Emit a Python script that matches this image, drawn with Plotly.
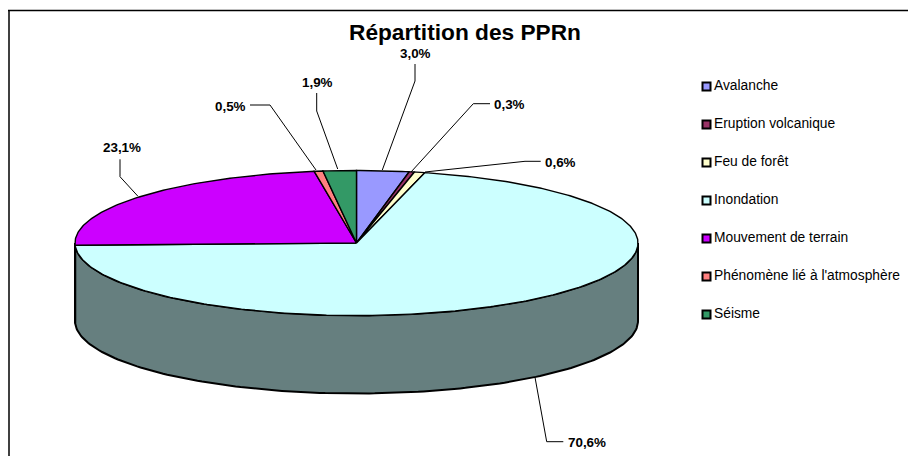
import numpy as np
import plotly.graph_objects as go

categories = ["Avalanche", "Eruption volcanique", "Feu de forêt", "Inondation",
              "Mouvement de terrain", "Phénomène lié à l'atmosphère", "Séisme"]
shares = [3.0, 0.3, 0.6, 70.6, 23.1, 0.5, 1.9]
top_colors = ["#9999FF", "#993366", "#FFFFCC", "#CCFFFF", "#CC00FF", "#FF8080", "#339966"]
side_colors = ["#4C4C80", "#4C1933", "#808066", "#667F7F", "#660080", "#804040", "#194C33"]

# Pie geometry in canvas pixels
CX, CY, RX, RY, DEPTH = 356.5, 243.0, 281.5, 72.5, 78.0

# Leader-line styling positions: [(x, y) ...] and label anchor per slice
leaders = [
    [(382.3, 170), (415, 81), (415, 64)],
    [(411, 172), (473.3, 103.7), (490, 103.7)],
    [(425, 172), (525, 161.3), (540.7, 161.3)],
    [(535, 377.3), (546.7, 441.7), (563.3, 441.7)],
    [(137.7, 196), (120, 176.7), (120, 159.3)],
    [(316, 170), (270, 105), (250, 105)],
    [(337.7, 169), (316.7, 111), (316.7, 93)],
]
label_pos = [(415.5, 53, "center"), (492, 104, "left"), (543, 162, "left"),
             (566, 442, "left"), (121.5, 147.5, "center"), (248, 106, "right"),
             (317, 82, "center")]
legend_ys = [85.5, 123.5, 161.5, 199.5, 237.5, 275.5, 313.5]
FONT = "Liberation Sans, Arial, sans-serif"


def pt(theta, dy=0.0):
    return CX + RX * np.sin(theta), CY - RY * np.cos(theta) + dy


fig = go.Figure()
fig.add_shape(type="line", x0=9, y0=10, x1=9, y1=456, layer="below",
              line=dict(color="#404040", width=2))
fig.add_shape(type="line", x0=8, y0=10.6, x1=908, y1=10.6, layer="below",
              line=dict(color="#000000", width=1.5))

edges = np.cumsum([0] + shares) / 100 * 2 * np.pi

# Side wall: only the front half of the cylinder is visible
for name, a, b, col in zip(categories, edges[:-1], edges[1:], side_colors):
    lo, hi = max(a, np.pi / 2), min(b, 3 * np.pi / 2)
    if hi <= lo:
        continue
    t = np.linspace(lo, hi, 160)
    xt, yt = pt(t)
    xb, yb = pt(t[::-1], DEPTH)
    fig.add_trace(go.Scatter(
        x=np.r_[xt, xb, xt[0]], y=np.r_[yt, yb, yt[0]], mode="lines", fill="toself",
        fillcolor=col, line=dict(color="#000000", width=2), name=name,
        hoverinfo="name", showlegend=False))

# Top face wedges
for name, a, b, col in zip(categories, edges[:-1], edges[1:], top_colors):
    t = np.linspace(a, b, max(6, int((b - a) * 80)))
    x, y = pt(t)
    fig.add_trace(go.Scatter(
        x=np.r_[CX, x, CX], y=np.r_[CY, y, CY], mode="lines", fill="toself",
        fillcolor=col, line=dict(color="#000000", width=1.4), name=name,
        hoverinfo="name", showlegend=False))

# Leader lines and percent labels
for line, share, (lx, ly, align) in zip(leaders, shares, label_pos):
    fig.add_trace(go.Scatter(
        x=[p[0] for p in line], y=[p[1] for p in line], mode="lines",
        line=dict(color="#000000", width=1), hoverinfo="skip", showlegend=False))
    fig.add_annotation(x=lx, y=ly, xref="x", yref="y", showarrow=False,
                       text="<b>" + f"{share:.1f}".replace(".", ",") + "%</b>",
                       xanchor=align, yanchor="middle",
                       font=dict(family=FONT, size=13.4, color="#000000"))

# Legend
fig.add_trace(go.Scatter(
    x=[706.5] * len(categories), y=[v + 1 for v in legend_ys], mode="markers",
    marker=dict(symbol="square", size=8, color=top_colors,
                line=dict(color="#000000", width=2)),
    hoverinfo="skip", showlegend=False))
for name, ly in zip(categories, legend_ys):
    fig.add_annotation(x=714, y=ly, xref="x", yref="y", showarrow=False, text=name,
                       xanchor="left", yanchor="middle", xshift=-2,
                       font=dict(family=FONT, size=13.8, color="#000000"))

fig.add_annotation(x=465, y=31.5, xref="x", yref="y", showarrow=False,
                   text="<b>Répartition des PPRn</b>", xanchor="center", yanchor="middle",
                   font=dict(family=FONT, size=22.7, color="#000000"))

fig.update_layout(
    width=908, height=456, margin=dict(l=0, r=0, t=0, b=0),
    paper_bgcolor="#FFFFFF", plot_bgcolor="#FFFFFF", showlegend=False,
    xaxis=dict(range=[0, 908], visible=False, fixedrange=True),
    yaxis=dict(range=[456, 0], visible=False, fixedrange=True),
)
fig.write_html("out.html", config=dict(displayModeBar=False),
               post_script="document.body.style.margin='0';document.body.style.overflow='hidden';")
